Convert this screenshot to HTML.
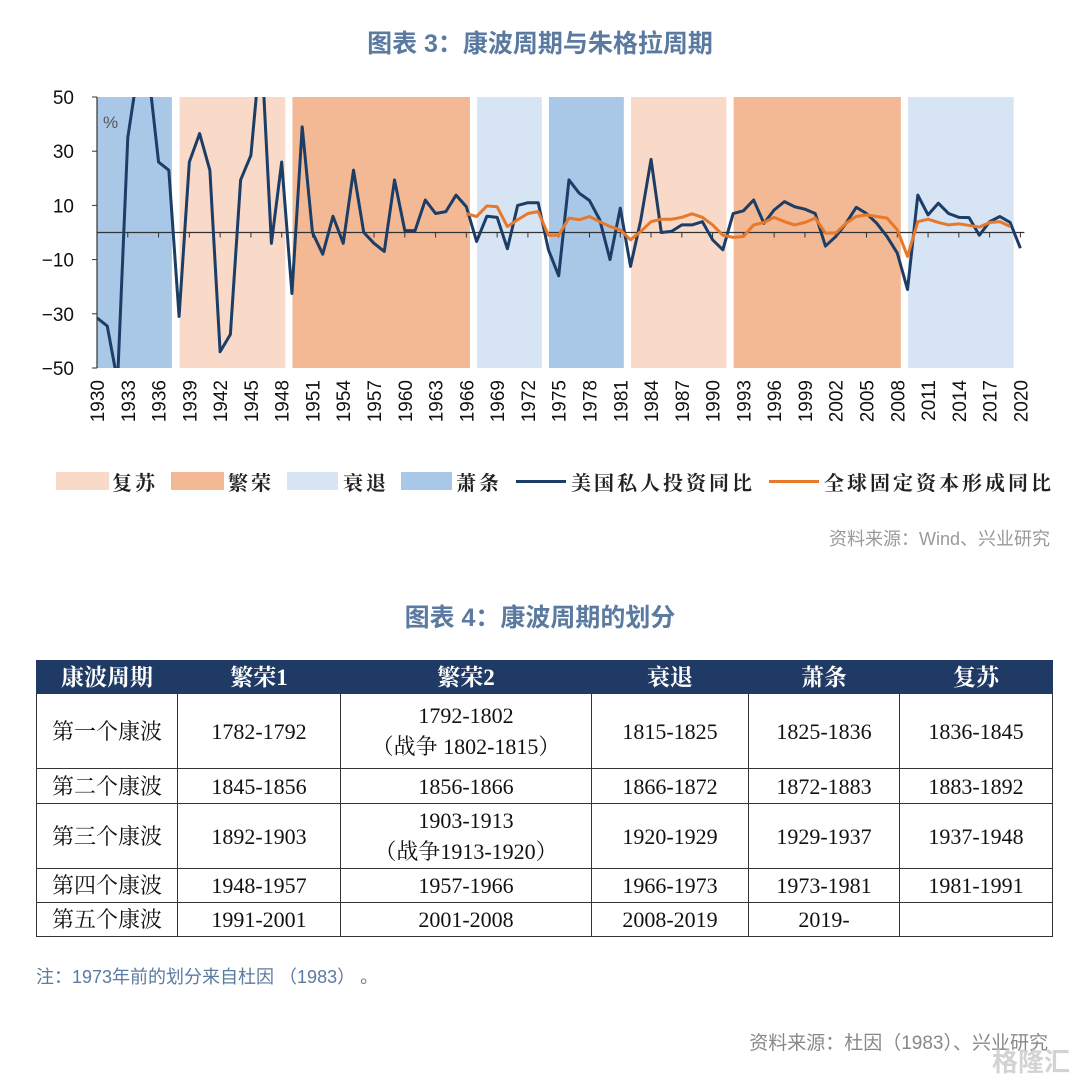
<!DOCTYPE html>
<html><head><meta charset="utf-8">
<style>
body{margin:0;width:1080px;height:1081px;background:#fff;position:relative;overflow:hidden;font-family:"Liberation Sans","Noto Sans CJK SC",sans-serif;}
.abs{position:absolute;}
.title{left:0;width:1080px;text-align:center;color:#5b7aa0;font-size:25px;font-weight:bold;}
table{position:absolute;left:36px;top:660px;border-collapse:collapse;font-family:"Liberation Serif","Noto Serif CJK SC",serif;font-size:22px;color:#111;}
td,th{border:1.5px solid #333;text-align:center;padding:0;line-height:31px;}
th{background:#1f3a64;color:#fff;font-weight:bold;font-size:23px;height:32px;border-color:#1f3a64;}
.lg{letter-spacing:3px;}
</style></head><body>
<div class="abs title" style="top:24px">图表 3：康波周期与朱格拉周期</div>
<svg class="abs" style="left:0;top:0" width="1080" height="560" id="chart">
<defs><clipPath id="plotclip"><rect x="97" y="97" width="930" height="271"/></clipPath></defs>
<g id="bands"></g><g id="axes"></g><g id="lines" clip-path="url(#plotclip)"></g>
<text x="103" y="128" font-size="17" fill="#555">%</text>
</svg>
<div class="abs" style="left:0;top:467px;width:1080px;height:26px;font-family:'Liberation Serif','Noto Serif CJK SC',serif;font-size:20px;font-weight:bold;color:#222">
<div class="abs" style="left:56px;top:5px;width:53px;height:18px;background:#f9d9c8"></div>
<div class="abs lg" style="left:112px;top:0">复苏</div>
<div class="abs" style="left:171px;top:5px;width:53px;height:18px;background:#f2b994"></div>
<div class="abs lg" style="left:228px;top:0">繁荣</div>
<div class="abs" style="left:287px;top:5px;width:51px;height:18px;background:#d6e4f3"></div>
<div class="abs lg" style="left:343px;top:0">衰退</div>
<div class="abs" style="left:401px;top:5px;width:51px;height:18px;background:#a9c8e8"></div>
<div class="abs lg" style="left:456px;top:0">萧条</div>
<div class="abs" style="left:516px;top:13px;width:50px;height:3px;background:#1b3d66"></div>
<div class="abs lg" style="left:571px;top:0">美国私人投资同比</div>
<div class="abs" style="left:769px;top:13px;width:50px;height:3px;background:#e8782a"></div>
<div class="abs lg" style="left:824px;top:0">全球固定资本形成同比</div>
</div>
<div class="abs" style="right:30px;top:525px;color:#999;font-size:18px">资料来源：Wind、兴业研究</div>
<div class="abs title" style="top:598px">图表 4：康波周期的划分</div>
<table>
<tr style="height:33px"><th style="width:140px">康波周期</th><th style="width:162px">繁荣1</th><th style="width:250px">繁荣2</th><th style="width:156px">衰退</th><th style="width:150px">萧条</th><th style="width:152px">复苏</th></tr>
<tr style="height:75px"><td>第一个康波</td><td>1782-1792</td><td>1792-1802<br>（战争 1802-1815）</td><td>1815-1825</td><td>1825-1836</td><td>1836-1845</td></tr>
<tr style="height:35px"><td>第二个康波</td><td>1845-1856</td><td>1856-1866</td><td>1866-1872</td><td>1872-1883</td><td>1883-1892</td></tr>
<tr style="height:65px"><td>第三个康波</td><td>1892-1903</td><td>1903-1913<br>（战争1913-1920）</td><td>1920-1929</td><td>1929-1937</td><td>1937-1948</td></tr>
<tr style="height:34px"><td>第四个康波</td><td>1948-1957</td><td>1957-1966</td><td>1966-1973</td><td>1973-1981</td><td>1981-1991</td></tr>
<tr style="height:34px"><td>第五个康波</td><td>1991-2001</td><td>2001-2008</td><td>2008-2019</td><td>2019-</td><td></td></tr>
</table>
<div class="abs" style="left:36px;top:963px;color:#5b7aa0;font-size:18px">注：1973年前的划分来自杜因 （1983） 。</div>
<div class="abs" style="right:32px;top:1028px;color:#888;font-size:19px">资料来源：杜因（1983）、兴业研究</div>
<div class="abs" style="right:10px;top:1042px;color:rgba(200,200,200,0.8);font-size:26px;font-weight:bold">格隆汇</div>
<script>
const years = [];
for (let y = 1930; y <= 2020; y++) years.push(y);
const usInvest = [-31.5,-34.5,-55,35,60,60,26,23,-31,26,36.5,23,-44,-37.6,19.4,28.5,70,-4,26,-22.5,39,0,-8,6,-4,23,0,-4,-7,19.4,0.7,0.7,12,7,7.7,13.8,9.5,-3.3,6,5.6,-6,10,11,11,-6.4,-16,19.4,14.5,11.8,4.7,-10,9,-12.5,4.6,27,0,0.4,2.8,2.8,4,-2.7,-6.4,7,8,12,3.4,8.3,11.4,9.5,8.6,7,-5,-1.5,3.4,9.3,7,3.4,-1.5,-7.6,-21,13.8,6.5,10.8,7,5.6,5.5,-1,4,5.9,3.7,-5.8];
const globalYears = [];
for (let y = 1966; y <= 2019; y++) globalYears.push(y);
const globalGFCF = [7,5.9,9.8,9.5,2.2,4.7,7,7.7,-1,-1,5.3,4.7,5.9,4,2.2,1,-2.7,0.4,4,4.9,4.9,5.6,6.9,5.6,2.8,-1,-1.8,-1.5,2.8,3.7,5.6,4,2.8,3.7,5.3,-0.2,-0.2,3.4,5.9,6.5,5.9,5.3,1,-8.8,4,4.9,3.7,2.8,3.2,2.6,2,3.7,4,2.2];
const bandStarts = [1930,1938,1949,1967,1974,1982,1992,2009];
const bandEnds = [1937,1948,1966,1973,1981,1991,2008,2019];
const bandPhases = ['depression','recovery','boom','recession','depression','recovery','boom','recession'];
const yTicks = [50,30,10,-10,-30,-50];
const phaseColor = {recovery:'#f9d9c8',boom:'#f2b994',recession:'#d6e4f3',depression:'#a9c8e8'};
const NS='http://www.w3.org/2000/svg';
const X = y => 97 + (y - 1930) * 10.26;
const Y = v => 232.5 - v * 2.71;
function mk(tag, attrs, parent){const e=document.createElementNS(NS,tag);for(const k in attrs)e.setAttribute(k,attrs[k]);parent.appendChild(e);return e;}
const bands=document.getElementById('bands'), axes=document.getElementById('axes'), lines=document.getElementById('lines');
bandStarts.forEach((s,i)=>{
  const r=mk('rect',{x:X(s)+(i?0.5:0),y:Y(50),width:X(bandEnds[i]+0.3)-X(s),height:Y(-50)-Y(50),fill:phaseColor[bandPhases[i]]},bands);
  
  
});
mk('line',{x1:X(1930),y1:Y(50),x2:X(1930),y2:Y(-50),stroke:'#333','stroke-width':1.2},axes);
mk('line',{x1:X(1930),y1:Y(0),x2:X(2020)+4,y2:Y(0),stroke:'#333','stroke-width':1.2},axes);
yTicks.forEach(v=>{
  mk('line',{x1:X(1930)-5,y1:Y(v),x2:X(1930),y2:Y(v),stroke:'#333'},axes);
  const t=mk('text',{x:74,y:Y(v)+7,'text-anchor':'end','font-size':19,fill:'#111'},axes);
  t.textContent=(v<0?'\u2212'+(-v):v);
  
  
});
years.forEach(y=>{
  if((y-1930)%3) return;
  mk('line',{x1:X(y),y1:Y(0),x2:X(y),y2:Y(0)+5,stroke:'#333'},axes);
  const t=mk('text',{x:0,y:0,'text-anchor':'end','font-size':19,fill:'#111',transform:`translate(${X(y)+7},380) rotate(-90)`},axes);
  t.textContent=y;
  
  
});
const p1=mk('polyline',{points:years.map((y,i)=>X(y)+','+Y(usInvest[i])).join(' '),fill:'none',stroke:'#1b3d66','stroke-width':3,'stroke-linejoin':'round'},lines);


const p2=mk('polyline',{points:globalYears.map((y,i)=>X(y)+','+Y(globalGFCF[i])).join(' '),fill:'none',stroke:'#e8782a','stroke-width':3,'stroke-linejoin':'round'},lines);


</script>
</body></html>
